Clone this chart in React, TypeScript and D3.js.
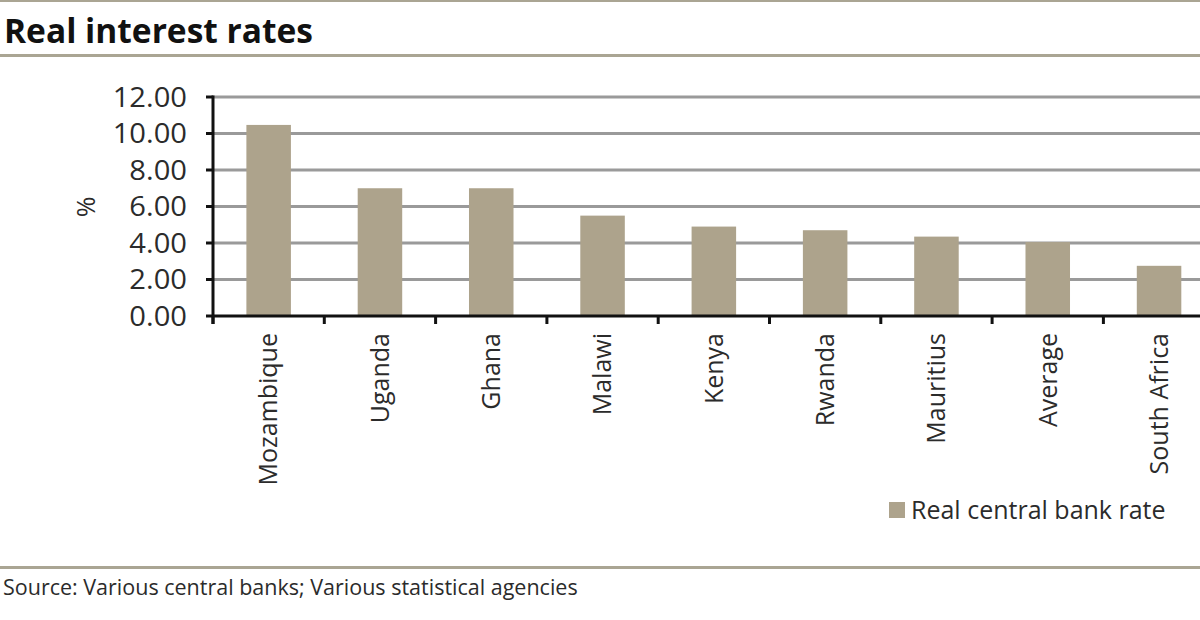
import React from "react";
import * as d3 from "d3";

const categories = ["Mozambique", "Uganda", "Ghana", "Malawi", "Kenya", "Rwanda", "Mauritius", "Average", "South Africa"];
const values = [10.47, 7.0, 7.0, 5.5, 4.9, 4.7, 4.35, 4.05, 2.75];
const yTicks = [0, 2, 4, 6, 8, 10, 12];
const title = "Real interest rates";
const seriesName = "Real central bank rate";
const source = "Source: Various central banks; Various statistical agencies";

const W = 1200, H = 620;
const FONT = "'Open Sans', 'Noto Sans', sans-serif";
const BAR = "#ada38c";
const RULE = "#aaa593";
const TEXT = "#2b2b2b";

export default function App() {
  const x0 = 213;
  const step = 111.3;
  const x = d3.scaleBand<string>().domain(categories).range([x0, x0 + step * categories.length]).paddingInner(0.6).paddingOuter(0.3);
  const y = d3.scaleLinear().domain([0, 12]).range([316, 97]);
  const fmt = d3.format(".2f");

  return (
    <svg width={W} height={H} style={{ position: "absolute", left: 0, top: 0, background: "#fff" }} fontFamily={FONT}>
      <line x1={0} x2={W} y1={1} y2={1} stroke={RULE} strokeWidth={2} />
      <text x={4} y={43} fontSize={33.5} fontWeight={700} fill="#111">{title}</text>
      <line x1={0} x2={W} y1={55.5} y2={55.5} stroke={RULE} strokeWidth={3} />

      {/* gridlines */}
      {yTicks.filter(t => t > 0).map(t => (
        <line key={t} x1={x0} x2={W} y1={y(t)} y2={y(t)} stroke="#9a9a9a" strokeWidth={3} />
      ))}
      {/* bars */}
      {categories.map((c, i) => (
        <rect key={c} x={x(c)!} y={y(values[i])} width={x.bandwidth()} height={y(0) - y(values[i])} fill={BAR} />
      ))}
      {/* y axis */}
      <line x1={x0} x2={x0} y1={y(12) - 1.5} y2={y(0) + 8} stroke="#111" strokeWidth={3} />
      {yTicks.map(t => (
        <g key={t}>
          <line x1={x0 - 7} x2={x0} y1={y(t)} y2={y(t)} stroke="#111" strokeWidth={3} />
          <text transform={`translate(187,${y(t)}) scale(1.1,1)`} dy="0.36em" textAnchor="end" fontSize={26.5} fill={TEXT}>{fmt(t)}</text>
        </g>
      ))}
      {/* x axis */}
      <line x1={x0} x2={W} y1={y(0)} y2={y(0)} stroke="#111" strokeWidth={3} />
      {categories.map((c, i) => (
        <line key={c} x1={x0 + step * i} x2={x0 + step * i} y1={y(0)} y2={y(0) + 8} stroke="#111" strokeWidth={3} />
      ))}
      {categories.map(c => {
        const cx = x(c)! + x.bandwidth() / 2;
        return (
          <text key={c} transform={`translate(${cx},333) rotate(-90)`} textAnchor="end" dy="0.35em" fontSize={25} fill={TEXT}>{c}</text>
        );
      })}
      <text transform={`translate(86,207) rotate(-90)`} textAnchor="middle" dy="0.35em" fontSize={25} fill={TEXT}>%</text>

      {/* legend */}
      <rect x={889} y={502} width={16} height={16} fill={BAR} />
      <text x={911} y={510} dy="0.36em" fontSize={25} fill={TEXT}>{seriesName}</text>

      <line x1={0} x2={W} y1={567.5} y2={567.5} stroke={RULE} strokeWidth={3} />
      <text x={3} y={595} fontSize={21.5} fill={TEXT}>{source}</text>
    </svg>
  );
}
